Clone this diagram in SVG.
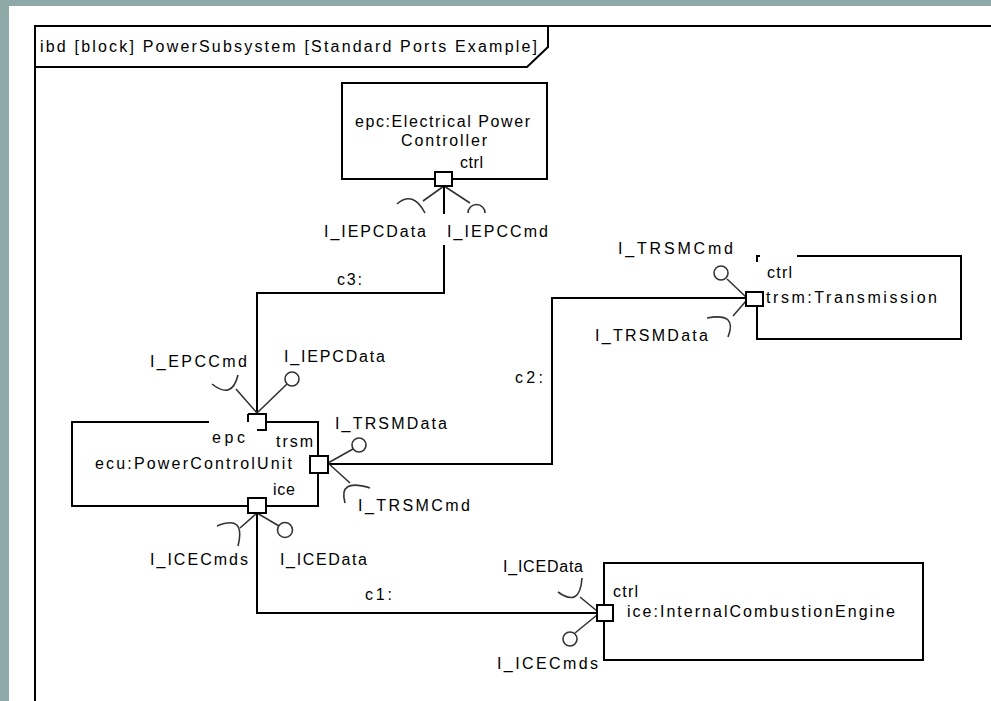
<svg xmlns="http://www.w3.org/2000/svg" width="991" height="701" viewBox="0 0 991 701">
<style>
.t{font-family:"Liberation Sans",Arial,sans-serif;font-size:16px;fill:#000}
.ln{fill:none;stroke:#000;stroke-width:2}
.port{fill:#fff;stroke:#000;stroke-width:2}
.if{fill:none;stroke:#333;stroke-width:1.6}
.ball{fill:#fff;stroke:#333;stroke-width:1.6}
</style>
<rect x="0" y="0" width="991" height="701" fill="#8fa9a9"/>
<rect x="9" y="6" width="982" height="695" fill="#fff"/>
<g id="frame">
<path class="ln" d="M35,701 V26 H991" stroke="#222"/>
<path class="ln" d="M35,67 H527 L548,47 V26" stroke="#333"/>
<text class="t" x="40" y="52" textLength="497" lengthAdjust="spacing">ibd [block] PowerSubsystem [Standard Ports Example]</text>
</g>
<g id="connectors">
<path class="ln" d="M444,245 V293 H257 V414"/>
<text class="t" x="337" y="285" textLength="25" lengthAdjust="spacing">c3:</text>
<path class="ln" d="M328,464 H552 V298 H746"/>
<text class="t" x="515" y="383" textLength="28" lengthAdjust="spacing">c2:</text>
<path class="ln" d="M257,513 V613 H597"/>
<text class="t" x="365" y="600" textLength="27" lengthAdjust="spacing">c1:</text>
</g>
<g id="epc">
<rect class="ln" x="342" y="83" width="205" height="96"/>
<text class="t" x="355" y="127" textLength="175" lengthAdjust="spacing">epc:Electrical Power</text>
<text class="t" x="401" y="146" textLength="86" lengthAdjust="spacing">Controller</text>
<text class="t" x="460" y="168" textLength="23" lengthAdjust="spacing">ctrl</text>
<path class="if" d="M444,186 L423,201 M397,204 Q413,190 425,213"/>
<path class="if" d="M444,186 L470,203 M468,213 A8.5,8.5 0 0 1 485,213"/>
<path class="ln" d="M444,186 V214"/>
<rect class="port" x="435" y="172" width="17" height="14"/>
<text class="t" x="324" y="237" textLength="102" lengthAdjust="spacing">I_IEPCData</text>
<text class="t" x="447" y="237" textLength="101" lengthAdjust="spacing">I_IEPCCmd</text>
</g>
<g id="ecu">
<path class="ln" d="M209,422 H72 V506 H248 M266,506 H318 V473 M318,456 V427 V422 H266"/>
<text class="t" x="95" y="469" textLength="197" lengthAdjust="spacing">ecu:PowerControlUnit</text>
<text class="t" x="212" y="443" textLength="33" lengthAdjust="spacing">epc</text>
<text class="t" x="276" y="447" textLength="37" lengthAdjust="spacing">trsm</text>
<text class="t" x="273" y="495" textLength="22" lengthAdjust="spacing">ice</text>
<path class="if" d="M257,413 L236,389 M212,384 Q232,400 238,375"/>
<path class="if" d="M257,413 L287,384"/>
<circle class="ball" cx="292" cy="379" r="7"/>
<path d="M248,414 H266 V430 H257 M248,414 V422" fill="#fff" stroke="#000" stroke-width="2"/>
<text class="t" x="150" y="367" textLength="97" lengthAdjust="spacing">I_EPCCmd</text>
<text class="t" x="284" y="362" textLength="101" lengthAdjust="spacing">I_IEPCData</text>
<path class="if" d="M328,463 L353,449"/>
<circle class="ball" cx="359" cy="445" r="7"/>
<path class="if" d="M328,463 L350,483 M345,503 Q338,478 370,488"/>
<rect class="port" x="310" y="456" width="18" height="17"/>
<text class="t" x="335" y="429" textLength="112" lengthAdjust="spacing">I_TRSMData</text>
<text class="t" x="358" y="511" textLength="112" lengthAdjust="spacing">I_TRSMCmd</text>
<path class="if" d="M257,513 L240,528 M217,526 Q246,514 238,546"/>
<path class="if" d="M257,513 L279,526"/>
<circle class="ball" cx="285" cy="530" r="7.5"/>
<rect class="port" x="248" y="498" width="18" height="15"/>
<text class="t" x="150" y="565" textLength="98" lengthAdjust="spacing">I_ICECmds</text>
<text class="t" x="280" y="565" textLength="87" lengthAdjust="spacing">I_ICEData</text>
</g>
<g id="trsm">
<path class="ln" d="M757,262 V256 H760 M797,256 H961 V339 H757 V306"/>
<text class="t" x="767" y="278" textLength="25" lengthAdjust="spacing">ctrl</text>
<text class="t" x="766" y="303" textLength="171" lengthAdjust="spacing">trsm:Transmission</text>
<path class="if" d="M746,297 L727,279"/>
<circle class="ball" cx="721" cy="273" r="7"/>
<path class="if" d="M746,301 L733,316 M707,318 Q738,312 728,337"/>
<rect class="port" x="746" y="292" width="17" height="14"/>
<text class="t" x="618" y="254" textLength="115" lengthAdjust="spacing">I_TRSMCmd</text>
<text class="t" x="595" y="341" textLength="113" lengthAdjust="spacing">I_TRSMData</text>
</g>
<g id="ice">
<rect class="ln" x="604" y="563" width="319" height="97"/>
<text class="t" x="613" y="597" textLength="25" lengthAdjust="spacing">ctrl</text>
<text class="t" x="627" y="617" textLength="268" lengthAdjust="spacing">ice:InternalCombustionEngine</text>
<path class="if" d="M597,611 L580,597 M558,592 Q580,608 582,578"/>
<path class="if" d="M597,615 L575,633"/>
<circle class="ball" cx="570" cy="639" r="7"/>
<rect class="port" x="597" y="605" width="16" height="16"/>
<text class="t" x="503" y="572" textLength="80" lengthAdjust="spacing">I_ICEData</text>
<text class="t" x="497" y="669" textLength="101" lengthAdjust="spacing">I_ICECmds</text>
</g>
</svg>
